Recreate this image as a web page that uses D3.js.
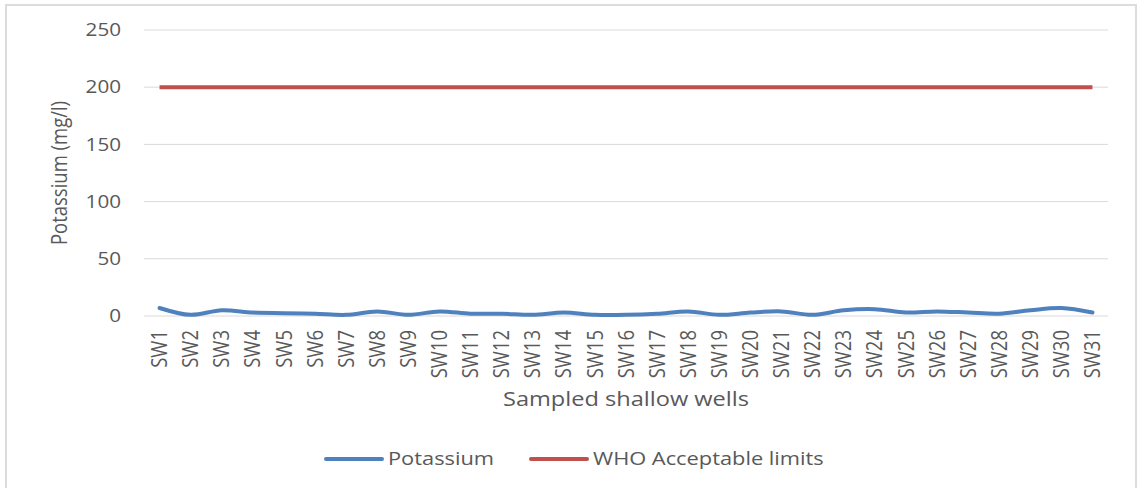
<!DOCTYPE html>
<html>
<head>
<meta charset="utf-8">
<script src="https://cdn.jsdelivr.net/npm/d3@7"></script>
<style>
  body { margin: 0; background: #fff; }
  svg { display: block; font-family: "Open Sans", "Noto Sans", sans-serif; }
</style>
</head>
<body>
<svg id="chart"></svg>
<script>
const width = 1138;
const height = 488;

const wells = d3.range(1, 32).map(i => "SW" + i);
const potassium = [7, 1, 5, 3, 2.5, 2, 1, 4, 1, 4, 2, 2, 1, 3, 1, 1, 2, 4, 1, 3, 4, 1, 5, 6, 3, 4, 3, 2, 5, 7, 3];
const whoLimit = wells.map(() => 200);
const yTicks = [0, 50, 100, 150, 200, 250];

const margin = { left: 144, right: 30, top: 30, bottom: 172 };
const stretch = 1.18; // reference text looks wider than tall

const svg = d3.select("#chart")
  .attr("width", width)
  .attr("height", height);

// chart frame
svg.append("rect")
  .attr("x", 6).attr("y", 5)
  .attr("width", 1130).attr("height", 500)
  .attr("fill", "#fff")
  .attr("stroke", "#dcdcdc")
  .attr("stroke-width", 2);

const xScale = d3.scaleBand()
  .domain(wells)
  .range([margin.left, width - margin.right]);

const yScale = d3.scaleLinear()
  .domain([0, 250])
  .range([height - margin.bottom, margin.top]);

const x = d => xScale(d) + xScale.bandwidth() / 2;

// gridlines
svg.append("g")
  .selectAll("line")
  .data(yTicks)
  .enter()
  .append("line")
  .attr("x1", margin.left)
  .attr("x2", width - margin.right)
  .attr("y1", d => yScale(d))
  .attr("y2", d => yScale(d))
  .attr("stroke", "#d9d9d9")
  .attr("stroke-width", 1);

const yAxis = d3.axisLeft(yScale).tickValues(yTicks).tickSize(0).tickPadding(23 / stretch);
svg.append("g")
  .attr("transform", `translate(${margin.left}, 0)`)
  .call(yAxis)
  .call(g => g.select(".domain").remove())
  .selectAll("text")
  .attr("fill", "#595959")
  .attr("transform", `scale(${stretch}, 1)`)
  .style("font-size", "17.5px")
  .style("font-family", "Open Sans, sans-serif");

const xAxis = d3.axisBottom(xScale).tickSize(0).tickPadding(0);
svg.append("g")
  .attr("transform", `translate(0, ${height - margin.bottom})`)
  .call(xAxis)
  .call(g => g.select(".domain").remove())
  .selectAll("text")
  .attr("fill", "#595959")
  .style("font-size", "18.5px")
  .style("font-family", "Open Sans, sans-serif")
  .attr("text-anchor", "end")
  .attr("dy", "0.35em")
  .attr("transform", `translate(0, 14) scale(${stretch}, 1) rotate(-90)`)
  .attr("x", 0)
  .attr("y", 0);

const line = d3.line()
  .x((d, i) => x(wells[i]))
  .y(d => yScale(d))
  .curve(d3.curveCatmullRom.alpha(0.5));

svg.append("path")
  .datum(whoLimit)
  .attr("d", line)
  .attr("fill", "none")
  .attr("stroke", "#C0504D")
  .attr("stroke-width", 4);

svg.append("path")
  .datum(potassium)
  .attr("d", line)
  .attr("fill", "none")
  .attr("stroke", "#4F81BD")
  .attr("stroke-width", 4)
  .attr("stroke-linecap", "round");

// axis titles
svg.append("text")
  .attr("transform", `translate(626, 406) scale(${stretch}, 1)`)
  .attr("text-anchor", "middle")
  .attr("fill", "#595959")
  .style("font-size", "20px")
  .text("Sampled shallow wells");

svg.append("text")
  .attr("transform", `translate(67, ${yScale(125)}) scale(${stretch}, 1) rotate(-90)`)
  .attr("text-anchor", "middle")
  .attr("fill", "#595959")
  .style("font-size", "18.5px")
  .text("Potassium (mg/l)");

// legend
const legendItems = [
  { name: "Potassium", color: "#4F81BD", x: 326 },
  { name: "WHO Acceptable limits", color: "#C0504D", x: 531 }
];
const legend = svg.append("g").attr("transform", "translate(0, 459)");
legendItems.forEach(item => {
  legend.append("line")
    .attr("x1", item.x).attr("x2", item.x + 56)
    .attr("y1", 0).attr("y2", 0)
    .attr("stroke", item.color)
    .attr("stroke-width", 4)
    .attr("stroke-linecap", "round");
  legend.append("text")
    .attr("transform", `translate(${item.x + 62}, 0) scale(${stretch}, 1)`)
    .attr("dy", "0.35em")
    .attr("fill", "#595959")
    .style("font-size", "18.5px")
    .text(item.name);
});
</script>
</body>
</html>
